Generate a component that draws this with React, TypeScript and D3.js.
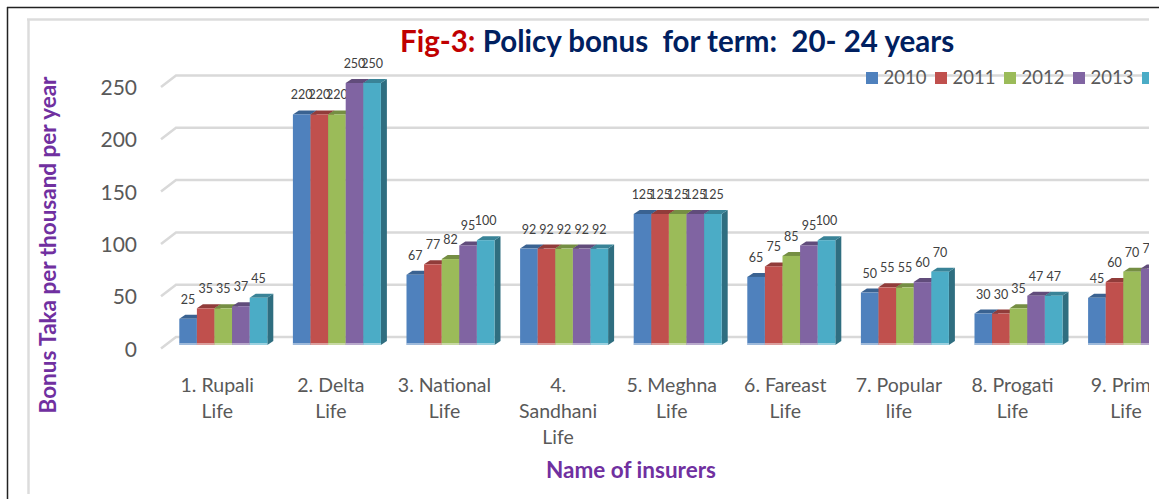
import React from "react";
import * as d3 from "d3";

const categoryLines = [
  ["1. Rupali", "Life"],
  ["2. Delta", "Life"],
  ["3. National", "Life"],
  ["4.", "Sandhani", "Life"],
  ["5. Meghna", "Life"],
  ["6. Fareast", "Life"],
  ["7. Popular", "life"],
  ["8. Progati", "Life"],
  ["9. Prime", "Life"],
];
const years = ["2010", "2011", "2012", "2013", "2014"];
const s2010 = [25, 220, 67, 92, 125, 65, 50, 30, 45];
const s2011 = [35, 220, 77, 92, 125, 75, 55, 30, 60];
const s2012 = [35, 220, 82, 92, 125, 85, 55, 35, 70];
const s2013 = [37, 250, 95, 92, 125, 95, 60, 47, 73];
const s2014 = [45, 250, 100, 92, 125, 100, 70, 47, 75];
const series = [s2010, s2011, s2012, s2013, s2014];
const yTicks = [0, 50, 100, 150, 200, 250];

const front = ["#4f81bd", "#c0504d", "#9bbb59", "#8064a2", "#4bacc6"];
const top = ["#3a6291", "#913c3a", "#758e43", "#614c7b", "#398397"];
const side = ["#34587f", "#803533", "#677d3b", "#55436c", "#2f6e80"];

const DX = 6;
const DY = 4;
const clipRight = 1149;
const font = "Lato, Carlito, 'Open Sans', sans-serif";
const gray = "#595959";

const x0 = d3
  .scaleBand<number>()
  .domain(d3.range(categoryLines.length))
  .range([179.3, 179.3 + 113.6 * 8 + 88])
  .paddingInner(1 - 88 / 113.6)
  .paddingOuter(0);
const x1 = d3.scaleBand<number>().domain(d3.range(5)).range([0, x0.bandwidth()]);
const yFront = d3.scaleLinear().domain([0, 250]).range([345, 83]);
const yBack = d3.scaleLinear().domain([0, 250]).range([337, 75.5]);

export default function App() {
  return (
    <svg
      width={1159}
      height={499}
      style={{ position: "absolute", left: 0, top: 0, background: "#fff", fontFamily: font }}
    >
      <defs>
        <clipPath id="plotClip">
          <rect x={0} y={0} width={clipRight} height={499} />
        </clipPath>
      </defs>
      <line x1={7} y1={7.5} x2={1159} y2={7.5} stroke="#222" strokeWidth={1.5} />
      <line x1={7.5} y1={7} x2={7.5} y2={499} stroke="#222" strokeWidth={1.5} />
      <line x1={27} y1={19.5} x2={clipRight} y2={19.5} stroke="#dcdcdc" strokeWidth={2.5} />
      <line x1={28.5} y1={19} x2={28.5} y2={494} stroke="#dcdcdc" strokeWidth={2.5} />

      <g clipPath="url(#plotClip)">
        {yTicks.map((t) => (
          <path
            key={t}
            d={`M161,${yBack(t) + 11.5}L176,${yBack(t)}H${clipRight}`}
            fill="none"
            stroke="#d9d9d9"
            strokeWidth={2.5}
          />
        ))}

        {categoryLines.map((_, c) => (
          <g key={c}>
            {series.map((vals, s) => {
              const v = vals[c];
              const x = (x0(c) as number) + (x1(s) as number);
              const w = x1.bandwidth();
              const yt = yFront(v);
              const yb = yFront(0);
              return (
                <g key={s}>
                  <path
                    d={`M${x + w},${yt}l${DX},${-DY}V${yb - DY}l${-DX},${DY}Z`}
                    fill={side[s]}
                  />
                  <path d={`M${x},${yt}l${DX},${-DY}h${w}l${-DX},${DY}Z`} fill={top[s]} />
                  <rect x={x} y={yt} width={w} height={yb - yt} fill={front[s]} />
                  <rect x={x} y={yb - 2} width={w} height={2.5} fill="#fff" opacity={0.45} />
                  {x + w / 2 - 8 < clipRight && (
                    <text
                      x={x + w / 2}
                      y={yt - 15}
                      textAnchor="middle"
                      fontSize={12.5}
                      fill="#404040"
                    >
                      {v}
                    </text>
                  )}
                </g>
              );
            })}
          </g>
        ))}

        {categoryLines.map((lines, c) => (
          <text key={c} textAnchor="middle" fontSize={19.5} fill={gray}>
            {lines.map((l, i) => (
              <tspan key={i} x={(x0(c) as number) + x0.bandwidth() / 2 - 6} y={391.5 + i * 26}>
                {l}
              </tspan>
            ))}
          </text>
        ))}

        {years.map((yr, i) => (
          <g key={yr}>
            <rect x={866 + i * 69} y={72} width={12} height={12} fill={front[i]} />
            {883.5 + i * 69 < clipRight && (
              <text x={883.5 + i * 69} y={83.5} fontSize={18.5} fill={gray}>
                {yr}
              </text>
            )}
          </g>
        ))}
      </g>

      {yTicks.map((t) => (
        <text key={t} x={137} y={yBack(t) + 19.5} textAnchor="end" fontSize={21} fill={gray}>
          {t}
        </text>
      ))}

      <text x={400} y={52} fontSize={29.5} fontWeight={700} style={{ whiteSpace: "pre" }}>
        <tspan fill="#c00000">Fig-3: </tspan>
        <tspan fill="#002060">{"Policy bonus  for term:  20- 24 years"}</tspan>
      </text>

      <text
        transform="translate(55.5,245) rotate(-90)"
        textAnchor="middle"
        fontSize={22.5}
        fontWeight={700}
        fill="#7030a0"
      >
        Bonus Taka per thousand per year
      </text>
      <text x={631} y={478} textAnchor="middle" fontSize={22.5} fontWeight={700} fill="#7030a0">
        Name of insurers
      </text>
    </svg>
  );
}
